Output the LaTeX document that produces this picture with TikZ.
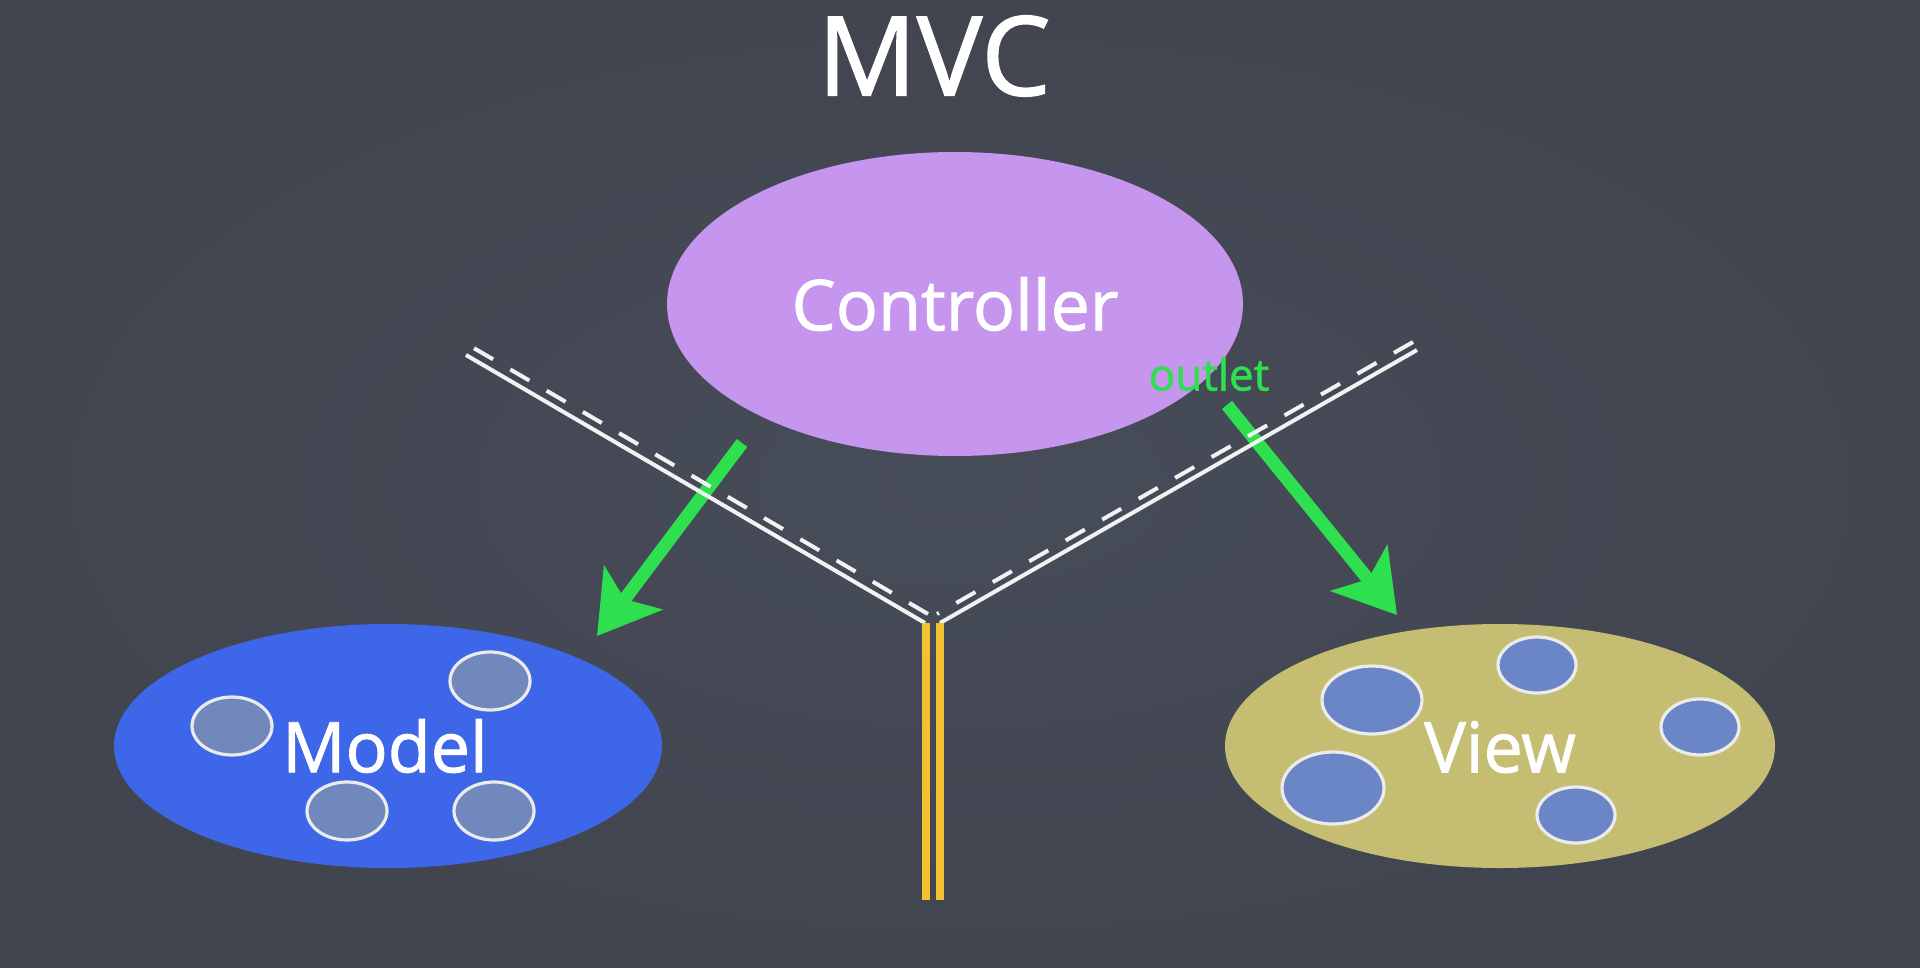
\documentclass[tikz,border=0pt]{standalone}
\usepackage{fontspec}
\setmainfont{Open Sans}
\newfontfamily\chalkfont{Open Sans}[FakeBold=1.3]
\usetikzlibrary{shapes.geometric,arrows.meta}
\definecolor{board}{HTML}{474C5A}
\definecolor{boardedge}{HTML}{41454F}
\definecolor{ctrlpurple}{HTML}{C695EE}
\definecolor{modelblue}{HTML}{3E66E8}
\definecolor{viewolive}{HTML}{C5BE72}
\definecolor{mdot}{HTML}{7088BC}
\definecolor{vdot}{HTML}{6A86C6}
\definecolor{laneyellow}{HTML}{F2C230}
\definecolor{chalkgreen}{HTML}{2EE04F}
\tikzset{
  blob/.style={ellipse, inner sep=0pt, text=white},
  dotblob/.style={ellipse, draw=white!92!black, line width=1.6pt, inner sep=0pt},
  chalkline/.style={draw=white!95!black, line width=2pt},
  chalkdash/.style={draw=white!95!black, line width=2pt, dash pattern=on 11pt off 10pt},
  lane/.style={draw=laneyellow, line width=4.2pt},
  greenarrow/.style={draw=chalkgreen, line width=6.5pt, -{Stealth[length=30pt,width=36pt,inset=7pt]}},
  bigtext/.style={font=\chalkfont\fontsize{35}{40}\selectfont, text=white}
}
\begin{document}
\begin{tikzpicture}[x=0.5pt,y=-0.5pt]
\shade[inner color=board, outer color=boardedge] (0,0) rectangle (1920,968);
\useasboundingbox (0,0) rectangle (1920,968);

% title
\node[text=white, font=\chalkfont\fontsize{55}{60}\selectfont] (title) at (934,56) {MVC};

% controller
\node[blob, fill=ctrlpurple, minimum width=288pt, minimum height=152pt, bigtext] (ctrl) at (955,304) {Controller};

% green arrows (outlets)
\coordinate (la) at (742,443);
\coordinate (lb) at (597,636);
\coordinate (ra) at (1227,405);
\coordinate (rb) at (1397,615);
\draw[greenarrow] (la) -- (lb);
\draw[greenarrow] (ra) -- (rb);
\node[text=chalkgreen, font=\chalkfont\fontsize{22}{24}\selectfont] (outlet) at (1209,374) {outlet};

% V lines
\coordinate (ls1) at (466,355);
\coordinate (ls2) at (925,623);
\coordinate (ld1) at (472,347);
\coordinate (ld2) at (928,614);
\coordinate (rs1) at (940,623);
\coordinate (rs2) at (1417,350);
\coordinate (rd1) at (937,614);
\coordinate (rd2) at (1413,342);
\draw[chalkline] (ls1) -- (ls2);
\draw[chalkdash] (ld2) -- (ld1);
\draw[chalkline] (rs1) -- (rs2);
\draw[chalkdash] (rd2) -- (rd1);

% yellow lines
\coordinate (y1a) at (926,623);
\coordinate (y1b) at (926,900);
\coordinate (y2a) at (940,623);
\coordinate (y2b) at (940,900);
\draw[lane] (y1a) -- (y1b);
\draw[lane] (y2a) -- (y2b);

% model
\node[blob, fill=modelblue, minimum width=274pt, minimum height=122pt] (model) at (388,746) {};
\node[dotblob, fill=mdot, minimum width=40pt, minimum height=29pt] (m1) at (232,726) {};
\node[dotblob, fill=mdot, minimum width=40pt, minimum height=29pt] (m2) at (490,681) {};
\node[dotblob, fill=mdot, minimum width=40pt, minimum height=29pt] (m3) at (347,811) {};
\node[dotblob, fill=mdot, minimum width=40pt, minimum height=29pt] (m4) at (494,811) {};
\node[bigtext] (modeltext) at (385,746) {Model};

% view
\node[blob, fill=viewolive, minimum width=275pt, minimum height=122pt] (view) at (1500,746) {};
\node[dotblob, fill=vdot, minimum width=50pt, minimum height=34pt] (v1) at (1372,700) {};
\node[dotblob, fill=vdot, minimum width=39pt, minimum height=28pt] (v2) at (1537,665) {};
\node[dotblob, fill=vdot, minimum width=39pt, minimum height=28pt] (v3) at (1700,727) {};
\node[dotblob, fill=vdot, minimum width=51pt, minimum height=36pt] (v4) at (1333,788) {};
\node[dotblob, fill=vdot, minimum width=39pt, minimum height=28pt] (v5) at (1576,815) {};
\node[bigtext] (viewtext) at (1500,747) {View};
\end{tikzpicture}
\end{document}
